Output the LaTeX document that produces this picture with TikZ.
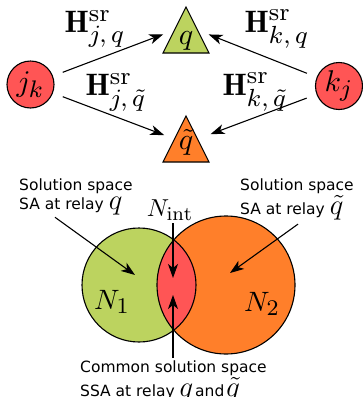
\documentclass[tikz,border=0pt]{standalone}
\usepackage{fontspec}
\setsansfont{DejaVu Sans}
\usetikzlibrary{arrows.meta,shapes.geometric,calc}
\DeclareMathSizes{10}{10}{8}{6}
\definecolor{cred}{HTML}{FF5555}
\definecolor{cgreen}{HTML}{BCD35F}
\definecolor{corange}{HTML}{FF7F2A}
\newcommand\mq[1]{\scalebox{2.0}{$#1$}}
\begin{document}
\begin{tikzpicture}[x=1pt,y=-1pt,
  arr/.style={line width=1.1pt, -{Stealth[length=14pt,width=10pt,inset=4pt]}},
  relay/.style={circle, draw, line width=1.1pt, fill=cred, minimum size=47pt, inner sep=0pt, outer sep=0pt},
  rlab/.style={inner sep=0pt, scale=3.0},
  tri/.style={isosceles triangle, isosceles triangle apex angle=53, shape border rotate=90,
    isosceles triangle stretches, minimum width=46pt, minimum height=46pt,
    inner sep=0pt, outer sep=0pt, draw, line width=1.1pt, anchor=apex},
  tlab/.style={inner sep=0pt, scale=3.0},
  lab/.style={inner sep=0pt, scale=3.1},
  txt/.style={inner sep=0pt, align=left, anchor=north west, font=\sffamily\fontsize{15.5}{18.5}\selectfont},
  venn/.style={line width=1.1pt},
]
\useasboundingbox (0,0) rectangle (363,397);

% top graph
\node[relay] (jk) at (30.5,84.5) {};
\node[relay] (kj) at (339,86) {};
\node[rlab] (jkl) at (jk) {$j_k$};
\node[rlab] (kjl) at (kj) {$k_j$};
\node[tri, fill=cgreen] (q) at (186,7) {};
\node[tri, fill=corange] (qt) at (186,116) {};
\node[tlab] (ql) at (186,41) {$q$};
\node[tlab] (qtl) at (186,142) {$\tilde{q}$};

\draw[arr, shorten <=11pt, shorten >=12pt] (jk) -- ($(q.apex)!0.5!(q.left corner)$);
\draw[arr, shorten <=11pt, shorten >=12pt] (kj) -- ($(q.apex)!0.5!(q.right corner)$);
\draw[arr, shorten <=11pt, shorten >=11pt] (jk) -- ($(qt.apex)!0.5!(qt.left corner)$);
\draw[arr, shorten <=11pt, shorten >=14pt] (kj) -- ($(qt.apex)!0.5!(qt.right corner)$);

\node[lab] (h1) at (95,29) {$\mathbf{H}^{\mathrm{sr}}_{j,\,q}$};
\node[lab] (h2) at (277,29) {$\mathbf{H}^{\mathrm{sr}}_{k,\,q}$};
\node[lab] (h3) at (116,92) {$\mathbf{H}^{\mathrm{sr}}_{j,\,\tilde{q}}$};
\node[lab] (h4) at (255,92) {$\mathbf{H}^{\mathrm{sr}}_{k,\,\tilde{q}}$};

% venn diagram
\fill[cgreen] (139,285) circle (57pt);
\fill[corange] (226,285) circle (69pt);
\begin{scope}
  \clip (139,285) circle (57pt);
  \fill[cred] (226,285) circle (69pt);
\end{scope}
\draw[venn] (139,285) circle (57pt);
\draw[venn] (226,285) circle (69pt);

\node[inner sep=0pt, scale=2.8] (n1) at (112,302) {$N_1$};
\node[inner sep=0pt, scale=2.8] (n2) at (262,304) {$N_2$};
\node[inner sep=0pt, scale=2.45] (nint) at (170,210) {$N_{\mathrm{int}}$};

\node[txt] (sa1) at (19,179) {Solution space\\SA at relay \mq{q}};
\node[txt] (sa2) at (240,179) {Solution space\\SA at relay \mq{\tilde{q}}};
\node[txt] (com) at (80,361) {Common solution space\\SSA at relay \mq{q}\hspace{2pt}and\hspace{2pt}\mq{\tilde{q}}};

\coordinate (t1) at (135,275);
\coordinate (t2) at (230,273);
\coordinate (t3) at (173,278);
\coordinate (t4) at (173,295);

\draw[arr] ([xshift=36pt,yshift=-2pt]sa1.south west) -- (t1);
\draw[arr] ([xshift=58pt,yshift=-4pt]sa2.south west) -- (t2);
\draw[arr] ([yshift=-2pt]nint.south -| t3) -- (t3);
\draw[arr] ([xshift=93pt,yshift=3pt]com.north west) -- (t4);
\end{tikzpicture}
\end{document}
